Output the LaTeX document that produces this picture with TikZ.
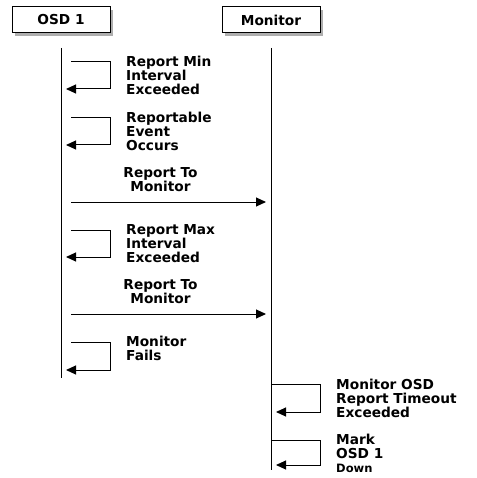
\documentclass[tikz,border=0pt]{standalone}
\usepackage{fontspec}
\setmainfont{DejaVu Sans}
\usetikzlibrary{arrows.meta,shadows}
\begin{document}
\begin{tikzpicture}[x=1pt,y=-1pt,
  lbl/.style={font=\bfseries\fontsize{13.7}{14}\selectfont, inner sep=0pt},
  actor/.style={draw, fill=white, line width=1pt, minimum width=98pt, minimum height=26pt,
    inner sep=0pt, font=\bfseries\fontsize{13.7}{14}\selectfont,
    drop shadow={shadow xshift=3pt, shadow yshift=-3pt, fill=black!45, opacity=0.7}},
  life/.style={line width=1pt},
  msg/.style={line width=1pt, -{Triangle[length=10pt,width=9pt]}}]
\useasboundingbox (0,0) rectangle (476,478);
\fill[white] (0,0) rectangle (476,478);

% actors
\node[actor] (osd) at (61,20) {OSD 1};
\node[actor] (mon) at (271,20) {Monitor};

% lifelines
\coordinate (osdtop) at (61,48);
\coordinate (osdbot) at (61,378);
\coordinate (montop) at (271,48);
\coordinate (monbot) at (271,470);
\draw[life] (osdtop) -- (osdbot);
\draw[life] (montop) -- (monbot);

% self message 1
\coordinate (a1) at (71,62);   \coordinate (b1) at (66,89);
\draw[msg] (a1) -- ++(39,0) |- (b1);
\node[lbl, anchor=north west, align=left] (t1) at (126,56) {Report Min\\Interval\\Exceeded};

% self message 2
\coordinate (a2) at (71,118);  \coordinate (b2) at (66,145);
\draw[msg] (a2) -- ++(39,0) |- (b2);
\node[lbl, anchor=north west, align=left] (t2) at (126,112) {Reportable\\Event\\Occurs};

% message 3
\coordinate (a3) at (71,202);  \coordinate (b3) at (266,202);
\draw[msg] (a3) -- (b3);
\node[lbl, anchor=south, align=center] (t3) at (160.5,191.5) {Report To\\Monitor};

% self message 4
\coordinate (a4) at (71,230);  \coordinate (b4) at (66,257);
\draw[msg] (a4) -- ++(39,0) |- (b4);
\node[lbl, anchor=north west, align=left] (t4) at (126,224) {Report Max\\Interval\\Exceeded};

% message 5
\coordinate (a5) at (71,314);  \coordinate (b5) at (266,314);
\draw[msg] (a5) -- (b5);
\node[lbl, anchor=south, align=center] (t5) at (160.5,303.5) {Report To\\Monitor};

% self message 6
\coordinate (a6) at (71,342);  \coordinate (b6) at (66,370);
\draw[msg] (a6) -- ++(39,0) |- (b6);
\node[lbl, anchor=north west, align=left] (t6) at (126,336) {Monitor\\Fails};

% monitor self message 7
\coordinate (a7) at (271,384); \coordinate (b7) at (276,412);
\draw[msg] (a7) -- ++(49,0) |- (b7);
\node[lbl, anchor=north west, align=left] (t7) at (336,378.5) {Monitor OSD\\Report Timeout\\Exceeded};

% monitor self message 8
\coordinate (a8) at (271,440); \coordinate (b8) at (276,465);
\draw[msg] (a8) -- ++(49,0) |- (b8);
\node[lbl, anchor=north west, align=left] (t8) at (336,434) {Mark\\OSD 1\\{\fontsize{11.5}{14}\selectfont Down}};
\end{tikzpicture}
\end{document}
